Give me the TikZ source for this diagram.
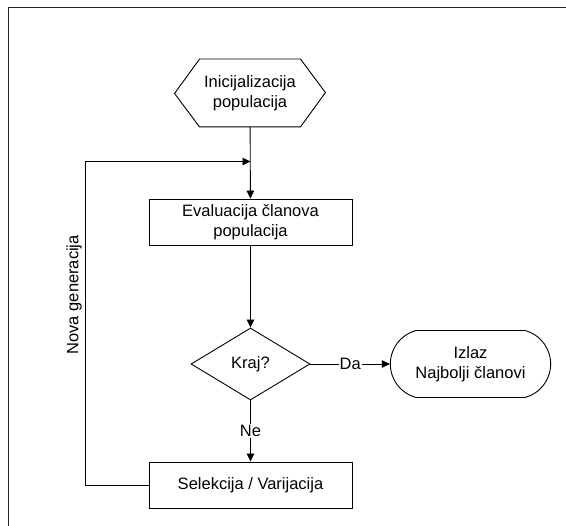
\documentclass[tikz,border=0pt]{standalone}
\usepackage{fontspec}
\setmainfont{Liberation Sans}
\usepackage{tikz}
\usetikzlibrary{shapes.geometric,shapes.misc,arrows.meta}

\begin{document}
\begin{tikzpicture}[x=1pt, y=-1pt, line width=0.9pt,
		font=\fontsize{16.5}{20}\selectfont,
		box/.style = {draw, rectangle, minimum width=203pt, minimum height=46pt, align=center},
		arrow/.style = {-{Triangle[length=8pt, width=7.5pt]}},
		lbl/.style = {fill=white, inner sep=1pt}]
			\useasboundingbox (0, 0) rectangle (566, 526);
			% frame
			\draw[black!85] (8.5, 526) -- (8.5, 7.5) -- (566, 7.5);
			% start
			\begin{scope}
				\node[align=center, minimum width=100pt, minimum height=67pt] (init) at (250, 93) {Inicijalizacija\\populacija};
				\draw (init.north west) -- (init.north east) -- ++(25, 33.5) -- (init.south east) 
					-- (init.south west) -- ++(-25, -33.5) -- cycle;
			\end{scope}
			% steps
			\node[box] (eval) at (250.5, 222) {Evaluacija članova\\populacija};
			\node[draw, diamond, minimum width=119pt, minimum height=72pt, inner sep=0pt] (kraj) at (250.5, 364) {Kraj?};
			\node[draw, rounded rectangle, rounded rectangle arc length=150, minimum width=167pt, minimum height=67pt, align=center] (izlaz) at (470.5, 364) {Izlaz\\Najbolji članovi};
			\node[box] (sel) at (250.5, 485) {Selekcija / Varijacija};
			% arrows
			\coordinate (join) at (250.5, 161.5);
			\coordinate (loop) at (85.5, 161.5);
			\draw[arrow] (init) -- (eval);
			\draw[arrow] (eval) -- (kraj);
			\draw[arrow] (kraj) -- node[lbl] {Da} (izlaz);
			\draw[arrow] (kraj) -- node[lbl] {Ne} (sel);
			\draw[arrow] (sel.west) -- (sel.west -| loop) 
				-- node[pos=0.588, sloped, above] {Nova generacija} (loop) -- (join);
		\end{tikzpicture}
\end{document}
